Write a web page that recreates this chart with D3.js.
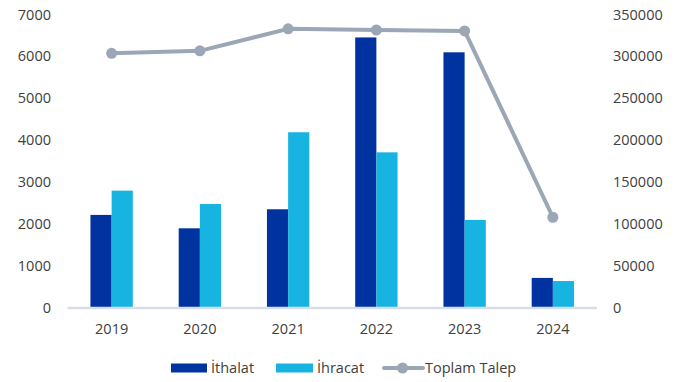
<!DOCTYPE html>
<html><head><meta charset="utf-8">
<script src="https://cdn.jsdelivr.net/npm/d3@7"></script>
<style>body{margin:0;background:#fff}svg{display:block}text{font-family:"Open Sans",sans-serif;fill:#404040}</style>
</head><body><svg id="c" width="689" height="382"></svg>
<script>
const years = ["2019","2020","2021","2022","2023","2024"];
const ithalat = [2200, 1880, 2335, 6440, 6085, 695];
const ihracat = [2780, 2460, 4175, 3695, 2080, 620];
const toplamTalep = [303000, 306000, 332300, 330900, 329800, 107200];
const leftTicks = [0,1000,2000,3000,4000,5000,6000,7000];
const rightTicks = [0,50000,100000,150000,200000,250000,300000,350000];
const seriesNames = ["İthalat","İhracat","Toplam Talep"];
const colors = {ith:"#0033A0", ihr:"#17B4E2", line:"#9BA6B6"};

const svg = d3.select("#c");
const m = {l:67.5, r:597, t:14, b:307};
const x = d3.scaleBand().domain(years).range([m.l, m.r]).paddingInner(0.52).paddingOuter(0.26);
const yL = d3.scaleLinear().domain([0,7000]).range([m.b, m.t]);
const yR = d3.scaleLinear().domain([0,350000]).range([m.b, m.t]);
const bw = x.bandwidth()/2;

// left axis
const la = svg.append("g").attr("transform",`translate(${m.l-16.5},0)`)
  .call(d3.axisLeft(yL).tickValues(leftTicks).tickSize(0).tickPadding(0).tickFormat(d3.format("d")));
la.select(".domain").remove();
la.selectAll("text").style("font-size","14.5px").attr("dy","0.35em");
// right axis
const ra = svg.append("g").attr("transform",`translate(${m.r+16},0)`)
  .call(d3.axisRight(yR).tickValues(rightTicks).tickSize(0).tickPadding(0).tickFormat(d3.format("d")));
ra.select(".domain").remove();
ra.selectAll("text").style("font-size","14.5px").attr("dy","0.35em");

// bars
svg.append("g").selectAll("rect").data(years).join("rect")
  .attr("x", d=>x(d)).attr("width", bw)
  .attr("y", (d,i)=>yL(ithalat[i])).attr("height",(d,i)=>yL(0)-yL(ithalat[i]))
  .attr("fill", colors.ith);
svg.append("g").selectAll("rect").data(years).join("rect")
  .attr("x", d=>x(d)+bw).attr("width", bw)
  .attr("y", (d,i)=>yL(ihracat[i])).attr("height",(d,i)=>yL(0)-yL(ihracat[i]))
  .attr("fill", colors.ihr);

// baseline
svg.append("line").attr("x1",m.l).attr("x2",m.r).attr("y1",m.b+1).attr("y2",m.b+1)
  .attr("stroke","#D9DEE6").attr("stroke-width",2.5);

// x labels
const xa = svg.append("g").attr("transform",`translate(0,${m.b})`)
  .call(d3.axisBottom(x).tickSize(0).tickPadding(0));
xa.select(".domain").remove();
xa.selectAll("text").style("font-size","14.5px").attr("dy","0").attr("y",27);

// line
const cx = d=>x(d)+x.bandwidth()/2;
svg.append("path").datum(years)
  .attr("d", d3.line().x(cx).y((d,i)=>yR(toplamTalep[i])))
  .attr("fill","none").attr("stroke",colors.line).attr("stroke-width",4).attr("stroke-linejoin","round");
svg.append("g").selectAll("circle").data(years).join("circle")
  .attr("cx",cx).attr("cy",(d,i)=>yR(toplamTalep[i])).attr("r",5.5).attr("fill",colors.line);

// legend
const ly = 368;
const lg = svg.append("g");
lg.append("rect").attr("x",171).attr("y",ly-4.5).attr("width",36).attr("height",9).attr("fill",colors.ith);
lg.append("text").attr("x",211).attr("y",ly).attr("dy","0.35em").style("font-size","14.5px").text(seriesNames[0]);
lg.append("rect").attr("x",276).attr("y",ly-4.5).attr("width",37).attr("height",9).attr("fill",colors.ihr);
lg.append("text").attr("x",317).attr("y",ly).attr("dy","0.35em").style("font-size","14.5px").text(seriesNames[1]);
lg.append("line").attr("x1",384).attr("x2",423).attr("y1",ly).attr("y2",ly).attr("stroke",colors.line).attr("stroke-width",4).attr("stroke-linecap","round");
lg.append("circle").attr("cx",402.5).attr("cy",ly).attr("r",5.5).attr("fill",colors.line);
lg.append("text").attr("x",425).attr("y",ly).attr("dy","0.35em").style("font-size","14.5px").text(seriesNames[2]);
</script></body></html>
